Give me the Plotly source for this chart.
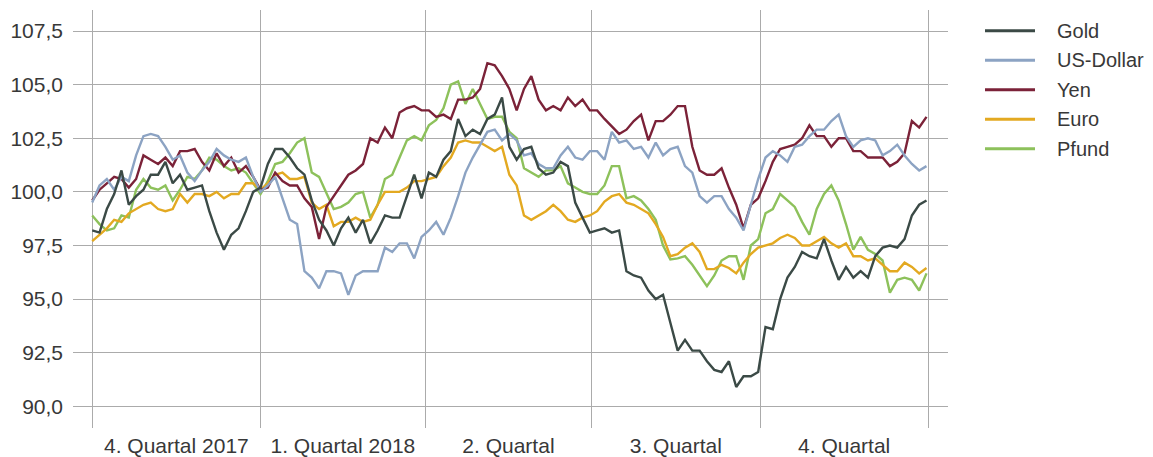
import pandas as pd
import plotly.graph_objects as go

# Index values (start of Q4 2017 = 100), sampled every four calendar days
start_date = "2017-10-01"
step_days = 4

gold = [98.2, 98.1, 99.2, 99.9, 101.0, 99.4, 99.8, 100.1, 100.8, 100.8,
        101.4, 100.4, 100.8, 100.1, 100.2, 100.3, 99.1, 98.1, 97.3, 98.0,
        98.3, 99.1, 100.0, 100.2, 101.3, 102.0, 102.0, 101.6, 101.1, 100.8,
        99.6, 98.7, 98.2, 97.5, 98.3, 98.8, 98.1, 98.7, 97.6, 98.2,
        98.9, 98.8, 98.8, 99.8, 100.8, 99.7, 100.9, 100.7, 101.5, 101.9,
        103.4, 102.6, 102.9, 102.7, 103.4, 103.6, 104.4, 102.1, 101.5, 102.0,
        102.1, 101.1, 100.8, 100.9, 101.4, 101.2, 99.5, 98.8, 98.1, 98.2,
        98.3, 98.1, 98.2, 96.3, 96.1, 96.0, 95.4, 95.0, 95.2, 93.9,
        92.6, 93.1, 92.6, 92.6, 92.1, 91.7, 91.6, 92.1, 90.9, 91.4,
        91.4, 91.6, 93.7, 93.6, 95.0, 96.0, 96.5, 97.2, 97.0, 96.9,
        97.8, 96.8, 95.9, 96.5, 96.0, 96.3, 96.0, 97.0, 97.4, 97.5,
        97.4, 97.8, 98.9, 99.4, 99.6]

us_dollar = [99.5, 100.3, 100.6, 100.1, 100.7, 100.5, 101.7, 102.6, 102.7, 102.6,
             102.1, 101.5, 101.7, 100.9, 100.5, 101.0, 101.4, 102.0, 101.7, 101.5,
             101.4, 101.6, 100.7, 100.0, 100.3, 100.7, 99.7, 98.7, 98.5, 96.3,
             96.0, 95.5, 96.3, 96.3, 96.2, 95.2, 96.1, 96.3, 96.3, 96.3,
             97.4, 97.2, 97.6, 97.6, 96.9, 97.9, 98.2, 98.6, 98.0, 98.8,
             99.8, 100.9, 101.6, 102.2, 102.8, 102.9, 102.4, 102.7, 102.4, 101.7,
             101.8, 101.3, 101.1, 101.1, 101.7, 102.1, 101.6, 101.5, 101.9, 101.9,
             101.5, 102.8, 102.3, 102.4, 102.0, 102.1, 101.6, 102.3, 101.7, 102.0,
             102.1, 101.2, 100.9, 99.8, 99.5, 99.8, 99.8, 99.2, 98.8, 98.2,
             99.4, 100.6, 101.6, 101.9, 101.7, 101.4, 102.1, 102.2, 102.6, 102.9,
             102.9, 103.3, 103.6, 102.6, 102.1, 102.4, 102.5, 102.4, 101.7, 101.9,
             102.2, 101.7, 101.3, 101.0, 101.2]

yen = [99.6, 100.1, 100.4, 100.7, 100.6, 100.2, 100.6, 101.7, 101.5, 101.3,
       101.6, 101.2, 101.9, 101.9, 102.0, 101.4, 101.0, 101.8, 101.2, 101.6,
       100.9, 101.2, 100.7, 100.1, 100.2, 100.9, 100.5, 100.3, 100.3, 99.7,
       99.3, 97.8, 99.3, 99.8, 100.3, 100.8, 101.0, 101.3, 102.5, 102.3,
       103.0, 102.5, 103.7, 103.9, 104.0, 103.8, 103.8, 103.5, 103.6, 103.4,
       104.3, 104.3, 104.4, 104.8, 106.0, 105.9, 105.4, 104.8, 103.8, 104.8,
       105.4, 104.3, 103.8, 104.0, 103.8, 104.4, 104.0, 104.3, 103.8, 103.8,
       103.4, 103.05, 102.7, 102.9, 103.3, 103.6, 102.4, 103.3, 103.3, 103.6,
       104.0, 104.0, 102.1, 101.0, 100.8, 100.8, 101.1, 100.2, 99.4, 98.3,
       99.4, 99.7, 100.5, 101.4, 102.0, 102.1, 102.2, 102.5, 103.1, 102.6,
       102.6, 102.1, 102.5, 102.5, 101.9, 101.9, 101.6, 101.6, 101.6, 101.2,
       101.4, 101.8, 103.3, 103.0, 103.5]

euro = [97.7, 98.0, 98.3, 98.7, 98.6, 99.0, 99.2, 99.4, 99.5, 99.2,
        99.1, 99.2, 99.9, 99.5, 99.9, 99.9, 99.8, 100.0, 99.7, 99.9,
        99.9, 100.4, 100.4, 100.1, 100.4, 100.8, 100.9, 100.6, 100.6, 100.7,
        99.5, 99.2, 99.4, 98.4, 98.6, 98.6, 98.8, 98.6, 98.7, 99.4,
        100.0, 100.0, 100.0, 100.2, 100.5, 100.5, 100.6, 100.7, 101.2, 101.6,
        102.3, 102.4, 102.3, 102.3, 102.1, 101.9, 102.1, 100.8, 100.3, 98.9,
        98.7, 98.9, 99.1, 99.4, 99.1, 98.7, 98.6, 98.8, 98.9, 99.1,
        99.55, 99.8, 99.9, 99.5, 99.4, 99.2, 99.0, 98.5, 97.9, 97.0,
        97.1, 97.4, 97.6, 97.2, 96.4, 96.4, 96.6, 96.45, 96.2, 96.7,
        97.1, 97.4, 97.5, 97.6, 97.85, 98.0, 97.85, 97.5, 97.5, 97.7,
        97.9, 97.6, 97.4, 97.6, 97.0, 97.0, 96.8, 96.9, 96.6, 96.3,
        96.3, 96.7, 96.5, 96.2, 96.45]

pfund = [98.9, 98.5, 98.2, 98.3, 98.9, 98.8, 100.1, 100.6, 100.2, 100.1,
         100.3, 99.6, 100.1, 100.7, 100.6, 101.0, 101.6, 101.5, 101.2, 101.0,
         101.1, 100.9, 100.4, 99.9, 100.5, 101.3, 101.4, 101.8, 102.3, 102.5,
         100.9, 100.7, 99.95, 99.2, 99.3, 99.5, 99.9, 100.0, 98.8, 99.4,
         100.6, 100.8, 101.6, 102.4, 102.6, 102.4, 103.1, 103.35, 103.9, 105.0,
         105.15, 104.1, 104.8, 104.1, 103.4, 103.5, 103.5, 102.8, 102.5, 101.1,
         100.9, 100.7, 101.0, 101.0, 101.2, 100.4, 100.2, 100.0, 99.9, 99.9,
         100.3, 101.2, 101.2, 99.7, 99.8, 99.6, 99.2, 98.7, 97.5, 96.85,
         96.9, 97.0, 96.6, 96.1, 95.6, 96.1, 96.8, 97.0, 97.0, 95.9,
         97.5, 97.8, 99.0, 99.2, 99.9, 99.6, 99.3, 98.6, 98.0, 99.2,
         99.9, 100.3, 99.6, 98.5, 97.3, 97.9, 97.3, 97.1, 96.8, 95.3,
         95.9, 96.0, 95.9, 95.4, 96.2]

series_names = ["Gold", "US-Dollar", "Yen", "Euro", "Pfund"]
series_values = [gold, us_dollar, yen, euro, pfund]
series_colors = ["#3b4a46", "#8ca3c3", "#7b2238", "#e3a921", "#8dc15b"]

quarter_starts = ["2017-10-01", "2018-01-01", "2018-04-01",
                  "2018-07-01", "2018-10-01", "2019-01-01"]
quarter_labels = ["4. Quartal 2017", "1. Quartal 2018", "2. Quartal",
                  "3. Quartal", "4. Quartal"]
y_ticks = [90.0, 92.5, 95.0, 97.5, 100.0, 102.5, 105.0, 107.5]

dates = pd.date_range(start_date, periods=len(gold), freq=f"{step_days}D")
q_bounds = pd.to_datetime(quarter_starts)
q_mids = [q_bounds[i] + (q_bounds[i + 1] - q_bounds[i]) / 2 for i in range(len(quarter_labels))]

# page geometry (pixels)
W, H = 1153, 457
L, R, T, B = 73, 205, 10, 29
plot_w, plot_h = W - L - R, H - T - B

FONT = "Liberation Sans, Arial, Helvetica, sans-serif"
TEXT = "#383838"
GRID = "#ababab"

fig = go.Figure()
# draw Pfund first so Gold ends up on top
for name, vals, col in reversed(list(zip(series_names, series_values, series_colors))):
    fig.add_trace(go.Scatter(x=dates, y=vals, mode="lines", name=name,
                             line=dict(color=col, width=2.4),
                             showlegend=False))

fig.update_layout(
    width=W, height=H,
    margin=dict(l=L, r=R, t=T, b=B, pad=0),
    plot_bgcolor="white", paper_bgcolor="white",
    separators=",.",
    font=dict(family=FONT, size=21, color=TEXT),
    xaxis=dict(
        type="date",
        range=[pd.Timestamp("2017-09-20 12:00"), pd.Timestamp("2019-01-11 18:00")],
        tickmode="array", tickvals=q_mids, ticktext=quarter_labels,
        showgrid=False, zeroline=False, showline=False, ticks="",
        ticklabelstandoff=3,
        minor=dict(tickmode="array", tickvals=q_bounds, showgrid=True,
                   gridcolor=GRID, gridwidth=1, ticks=""),
        automargin=False, fixedrange=True,
    ),
    yaxis=dict(
        range=[88.99, 108.48],
        tickmode="array", tickvals=y_ticks, tickformat=".1f",
        showgrid=True, gridcolor=GRID, gridwidth=1,
        zeroline=False, showline=False, ticks="",
        ticklabelstandoff=9,
        automargin=False, fixedrange=True,
    ),
)

# legend: short line sample followed by the series name
leg_x0, leg_x1, leg_text_x = 985, 1035, 1055
leg_y0, leg_dy = 30.7, 29.5
for k, (name, col) in enumerate(zip(series_names, series_colors)):
    py = leg_y0 + k * leg_dy
    yp = (H - B - py) / plot_h
    fig.add_shape(type="line", xref="paper", yref="paper",
                  x0=(leg_x0 - L) / plot_w, x1=(leg_x1 - L) / plot_w, y0=yp, y1=yp,
                  line=dict(color=col, width=3))
    fig.add_annotation(xref="paper", yref="paper", x=(leg_text_x - L) / plot_w, y=yp,
                       text=name, showarrow=False, xanchor="left", yanchor="middle",
                       font=dict(family=FONT, size=20, color=TEXT))

fig.write_html("out.html")
